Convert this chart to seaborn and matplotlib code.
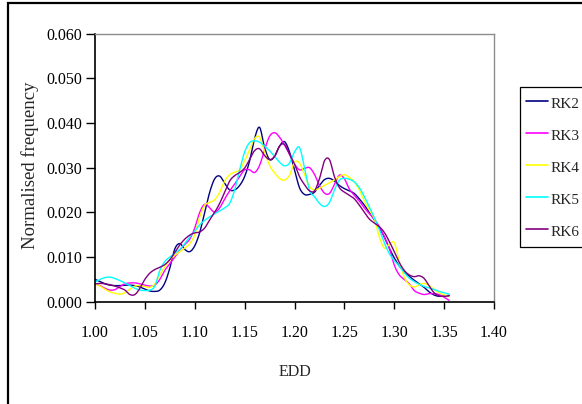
import numpy as np
import pandas as pd
import matplotlib
matplotlib.use("Agg")
import matplotlib.pyplot as plt
from matplotlib.patches import Rectangle
from matplotlib.ticker import FormatStrFormatter
import seaborn as sns

# EDD bin positions
edd = [
    1.000, 1.005, 1.010, 1.015, 1.020, 1.025, 1.030, 1.035, 1.040, 1.045,
    1.050, 1.055, 1.060, 1.065, 1.070, 1.075, 1.080, 1.085, 1.090, 1.095,
    1.100, 1.105, 1.110, 1.115, 1.120, 1.125, 1.130, 1.135, 1.140, 1.145,
    1.150, 1.155, 1.160, 1.165, 1.170, 1.175, 1.180, 1.185, 1.190, 1.195,
    1.200, 1.205, 1.210, 1.215, 1.220, 1.225, 1.230, 1.235, 1.240, 1.245,
    1.250, 1.255, 1.260, 1.265, 1.270, 1.275, 1.280, 1.285, 1.290, 1.295,
    1.300, 1.305, 1.310, 1.315, 1.320, 1.325, 1.330, 1.335, 1.340, 1.345,
    1.350, 1.355,
]

rk2 = [
    0.0050, 0.0045, 0.0040, 0.0037, 0.0036, 0.0036, 0.0037, 0.0037, 0.0036, 0.0033,
    0.0028, 0.0024, 0.0023, 0.0026, 0.0042, 0.0075, 0.0118, 0.0130, 0.0117, 0.0112,
    0.0125, 0.0155, 0.0200, 0.0245, 0.0275, 0.0281, 0.0265, 0.0250, 0.0250, 0.0260,
    0.0280, 0.0315, 0.0365, 0.0390, 0.0345, 0.0318, 0.0325, 0.0348, 0.0358, 0.0335,
    0.0295, 0.0255, 0.0240, 0.0240, 0.0245, 0.0260, 0.0273, 0.0276, 0.0270, 0.0260,
    0.0253, 0.0248, 0.0242, 0.0230, 0.0216, 0.0200, 0.0183, 0.0165, 0.0145, 0.0120,
    0.0098, 0.0080, 0.0067, 0.0057, 0.0048, 0.0040, 0.0032, 0.0022, 0.0015, 0.0012,
    0.0013, 0.0014,
]

rk3 = [
    0.0040, 0.0036, 0.0030, 0.0026, 0.0027, 0.0034, 0.0040, 0.0042, 0.0042, 0.0040,
    0.0037, 0.0035, 0.0037, 0.0050, 0.0070, 0.0085, 0.0100, 0.0115, 0.0128, 0.0140,
    0.0165, 0.0200, 0.0218, 0.0210, 0.0200, 0.0210, 0.0230, 0.0248, 0.0263, 0.0280,
    0.0295, 0.0295, 0.0289, 0.0305, 0.0340, 0.0370, 0.0378, 0.0368, 0.0350, 0.0330,
    0.0308, 0.0295, 0.0298, 0.0300, 0.0285, 0.0260, 0.0243, 0.0242, 0.0262, 0.0283,
    0.0275, 0.0252, 0.0238, 0.0225, 0.0210, 0.0197, 0.0185, 0.0168, 0.0145, 0.0120,
    0.0082, 0.0060, 0.0050, 0.0040, 0.0025, 0.0019, 0.0016, 0.0018, 0.0018, 0.0016,
    0.0010, 0.0003,
]

rk4 = [
    0.0040, 0.0035, 0.0028, 0.0022, 0.0019, 0.0017, 0.0020, 0.0028, 0.0035, 0.0036,
    0.0034, 0.0032, 0.0040, 0.0060, 0.0078, 0.0093, 0.0104, 0.0112, 0.0120, 0.0130,
    0.0150, 0.0190, 0.0216, 0.0222, 0.0228, 0.0245, 0.0270, 0.0284, 0.0290, 0.0295,
    0.0315, 0.0340, 0.0365, 0.0368, 0.0335, 0.0305, 0.0288, 0.0276, 0.0272, 0.0283,
    0.0312, 0.0310, 0.0285, 0.0258, 0.0250, 0.0254, 0.0260, 0.0266, 0.0272, 0.0280,
    0.0284, 0.0278, 0.0268, 0.0250, 0.0225, 0.0205, 0.0185, 0.0145, 0.0120, 0.0128,
    0.0132, 0.0090, 0.0055, 0.0038, 0.0033, 0.0038, 0.0041, 0.0036, 0.0027, 0.0020,
    0.0015, 0.0011,
]

rk5 = [
    0.0044, 0.0050, 0.0054, 0.0055, 0.0052, 0.0047, 0.0042, 0.0036, 0.0030, 0.0026,
    0.0025, 0.0026, 0.0035, 0.0070, 0.0090, 0.0100, 0.0108, 0.0117, 0.0130, 0.0145,
    0.0158, 0.0172, 0.0182, 0.0190, 0.0197, 0.0203, 0.0210, 0.0220, 0.0250, 0.0295,
    0.0335, 0.0356, 0.0360, 0.0357, 0.0348, 0.0338, 0.0325, 0.0312, 0.0304, 0.0310,
    0.0335, 0.0345, 0.0300, 0.0250, 0.0235, 0.0220, 0.0213, 0.0222, 0.0250, 0.0272,
    0.0276, 0.0274, 0.0268, 0.0255, 0.0235, 0.0212, 0.0188, 0.0162, 0.0132, 0.0108,
    0.0092, 0.0080, 0.0065, 0.0053, 0.0045, 0.0039, 0.0034, 0.0031, 0.0027, 0.0023,
    0.0020, 0.0017,
]

rk6 = [
    0.0040, 0.0041, 0.0040, 0.0038, 0.0035, 0.0031, 0.0026, 0.0016, 0.0016, 0.0030,
    0.0050, 0.0064, 0.0072, 0.0077, 0.0083, 0.0094, 0.0110, 0.0127, 0.0140, 0.0149,
    0.0154, 0.0156, 0.0165, 0.0183, 0.0200, 0.0220, 0.0245, 0.0270, 0.0282, 0.0289,
    0.0299, 0.0318, 0.0338, 0.0342, 0.0327, 0.0318, 0.0325, 0.0348, 0.0352, 0.0330,
    0.0308, 0.0280, 0.0262, 0.0248, 0.0248, 0.0275, 0.0315, 0.0318, 0.0280, 0.0255,
    0.0245, 0.0238, 0.0230, 0.0216, 0.0200, 0.0185, 0.0176, 0.0168, 0.0155, 0.0135,
    0.0112, 0.0088, 0.0070, 0.0060, 0.0056, 0.0058, 0.0052, 0.0035, 0.0020, 0.0013,
    0.0012, 0.0013,
]

series_names = ["RK2", "RK3", "RK4", "RK5", "RK6"]
series_values = [rk2, rk3, rk4, rk5, rk6]
series_colors = ["#000080", "#FF00FF", "#FFFF00", "#00FFFF", "#800080"]

x_ticks = [1.00, 1.05, 1.10, 1.15, 1.20, 1.25, 1.30, 1.35, 1.40]
y_ticks = [0.000, 0.010, 0.020, 0.030, 0.040, 0.050, 0.060]


def smooth_curve(x, y, steps=12):
    """Catmull-Rom spline through the points, as used for smoothed line charts."""
    x = np.asarray(x, float)
    y = np.asarray(y, float)
    px = np.concatenate([[2 * x[0] - x[1]], x, [2 * x[-1] - x[-2]]])
    py = np.concatenate([[2 * y[0] - y[1]], y, [2 * y[-1] - y[-2]]])
    t = np.linspace(0, 1, steps, endpoint=False)
    xs, ys = [], []
    for i in range(1, len(px) - 2):
        for p, out in ((px, xs), (py, ys)):
            p0, p1, p2, p3 = p[i - 1], p[i], p[i + 1], p[i + 2]
            out.append(0.5 * ((2 * p1) + (-p0 + p2) * t
                              + (2 * p0 - 5 * p1 + 4 * p2 - p3) * t ** 2
                              + (-p0 + 3 * p1 - 3 * p2 + p3) * t ** 3))
    xs.append([x[-1]])
    ys.append([y[-1]])
    return np.concatenate(xs), np.concatenate(ys)


frames = []
for name, vals in zip(series_names, series_values):
    sx, sy = smooth_curve(edd, vals)
    frames.append(pd.DataFrame({"EDD": sx, "freq": sy, "run": name}))
data = pd.concat(frames, ignore_index=True)

sns.set_style("ticks")
plt.rcParams["font.family"] = ["Liberation Serif", "DejaVu Serif"]

fig = plt.figure(figsize=(5.82, 4.04), dpi=100)
ax = fig.add_axes([95 / 582, 1 - 301.7 / 404, 399 / 582, 268.2 / 404])

sns.lineplot(data=data, x="EDD", y="freq", hue="run", hue_order=series_names,
             palette=series_colors, sort=False, estimator=None, linewidth=1.0,
             ax=ax)

ax.set_xlim(1.00, 1.40)
ax.set_ylim(0.0, 0.060)
ax.set_xticks(x_ticks)
ax.set_yticks(y_ticks)
ax.xaxis.set_major_formatter(FormatStrFormatter("%.2f"))
ax.yaxis.set_major_formatter(FormatStrFormatter("%.3f"))
ax.tick_params(axis="y", direction="out", length=6.5, width=1.0, pad=3,
               labelsize=11.5, colors="black")
ax.tick_params(axis="x", direction="out", length=5, width=1.0, pad=12,
               labelsize=11.5, colors="black")

for side in ("left", "bottom"):
    ax.spines[side].set_color("black")
    ax.spines[side].set_linewidth(1.2)
for side in ("top", "right"):
    ax.spines[side].set_visible(True)
    ax.spines[side].set_color("#8c8c8c")
    ax.spines[side].set_linewidth(1.0)

ax.set_xlabel("EDD", fontsize=11.5)
ax.xaxis.set_label_coords(0.5, (301.7 - 372) / 268.2)
ax.xaxis.label.set_va("center")
ax.set_ylabel("Normalised frequency", fontsize=13.5)
ax.yaxis.set_label_coords((30 - 95) / 399, (301.7 - 165) / 268.2)
ax.yaxis.label.set_va("center")

leg = ax.legend(loc="upper left", bbox_to_anchor=(520 / 582, 1 - 87 / 404),
                bbox_transform=fig.transFigure, borderaxespad=0,
                frameon=True, fancybox=False, shadow=False, framealpha=1,
                edgecolor="black", fontsize=11, handlelength=1.45,
                handleheight=1.6, handletextpad=0.15, labelspacing=0.81,
                borderpad=0.4, title=None)
leg.get_frame().set_linewidth(0.9)
for line in leg.get_lines():
    line.set_linewidth(1.2)

# chart area border
fig.patches.append(Rectangle((7.5 / 582, -0.5), 2.0, 1.5 - 3 / 404,
                             transform=fig.transFigure, fill=False,
                             edgecolor="black", linewidth=1.6))

fig.savefig("out.png", dpi=100, facecolor="white")
